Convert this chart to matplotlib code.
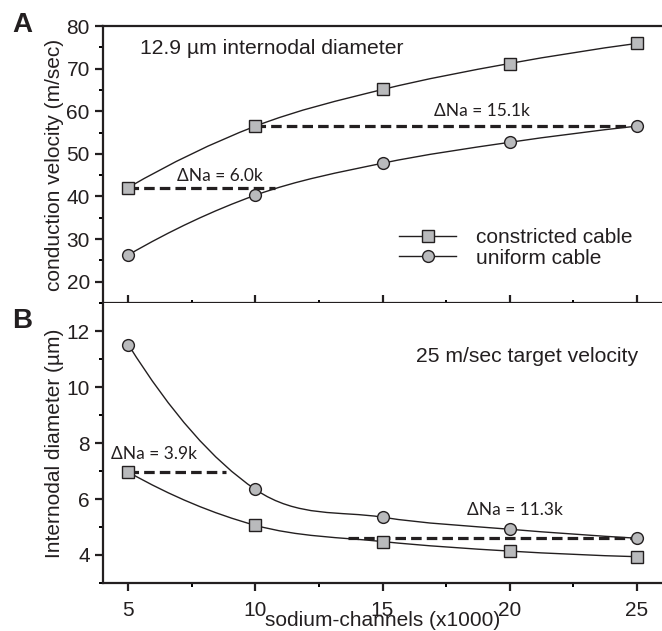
import matplotlib
matplotlib.use('Agg')
import matplotlib.pyplot as plt
import numpy as np
from matplotlib.path import Path
from matplotlib.patches import PathPatch
from matplotlib.lines import Line2D
from matplotlib.ticker import MultipleLocator

plt.rcParams['font.family'] = ['Liberation Sans', 'DejaVu Sans']

INK = '#231f20'
GRAY = '#b9babc'

# data
channels = [5, 10, 15, 20, 25]  # x1000
velocity_constricted = [42.1, 56.5, 65.1, 71.2, 75.9]
velocity_uniform = [26.3, 40.3, 47.8, 52.7, 56.5]
diameter_constricted = [6.96, 5.06, 4.48, 4.14, 3.94]
diameter_uniform = [11.51, 6.34, 5.35, 4.92, 4.6]

# ΔNa dashed segments: (x_start, x_end, y, label, label x, label y)
delta_a = [(5, 10.75, 42.1, 'ΔNa = 6.0k', 8.6, 44.8),
           (10, 25, 56.5, 'ΔNa = 15.1k', 18.9, 60.0)]
delta_b = [(5, 8.85, 6.96, 'ΔNa = 3.9k', 6.0, 7.6),
           (13.65, 25, 4.6, 'ΔNa = 11.3k', 20.2, 5.62)]


def smooth_path(x, y):
    """Cubic Bezier path through the points (tangents from neighbours)."""
    x = np.asarray(x, float)
    y = np.asarray(y, float)
    n = len(x)
    d = np.diff(y) / np.diff(x)
    m = np.empty(n)
    m[1:-1] = (y[2:] - y[:-2]) / (x[2:] - x[:-2])
    m[0] = 2 * d[0] - m[1]
    m[-1] = 2 * d[-1] - m[-2]
    verts = [(x[0], y[0])]
    codes = [Path.MOVETO]
    for i in range(n - 1):
        h = x[i + 1] - x[i]
        verts += [(x[i] + h / 3, y[i] + m[i] * h / 3),
                  (x[i + 1] - h / 3, y[i + 1] - m[i + 1] * h / 3),
                  (x[i + 1], y[i + 1])]
        codes += [Path.CURVE4] * 3
    return Path(verts, codes)


fig = plt.figure(figsize=(6.62, 6.31), dpi=100)
ax_a = fig.add_axes([103 / 662, 1 - 303 / 631, 1 - 103 / 662, 277 / 631])
ax_b = fig.add_axes([103 / 662, 1 - 583 / 631, 1 - 103 / 662, 280 / 631])

mk = dict(markerfacecolor=GRAY, markeredgecolor=INK, markeredgewidth=1.0,
          linestyle='none', zorder=4)


def draw(ax, yc, yu, deltas):
    for ys in (yc, yu):
        ax.add_patch(PathPatch(smooth_path(channels, ys), fill=False,
                               edgecolor=INK, linewidth=1.0, zorder=2))
    for x0, x1, yy, lab, tx, ty in deltas:
        ax.plot([x0, x1], [yy, yy], color=INK, linewidth=2.3,
                dashes=(3.3, 1.6), zorder=3)
        ax.text(tx, ty, lab, family=['Lato', 'DejaVu Sans'], fontsize=12.5,
                color=INK, ha='center', va='center')
    ax.plot(channels, yc, marker='s', markersize=8.3, **mk)
    ax.plot(channels, yu, marker='o', markersize=8.5, **mk)
    ax.set_xlim(4, 26)
    ax.xaxis.set_major_locator(MultipleLocator(5))
    ax.xaxis.set_minor_locator(MultipleLocator(2.5))
    for s in ('left', 'bottom', 'top'):
        ax.spines[s].set_linewidth(1.6)
        ax.spines[s].set_color(INK)
    ax.spines['right'].set_visible(False)
    ax.tick_params(colors=INK, labelsize=15, width=1.6)
    ax.tick_params(axis='y', which='major', direction='out', length=6)
    ax.tick_params(axis='y', which='minor', direction='out', length=3, width=1.4)


draw(ax_a, velocity_constricted, velocity_uniform, delta_a)
draw(ax_b, diameter_constricted, diameter_uniform, delta_b)

# panel A
ax_a.set_ylim(15, 80)
ax_a.yaxis.set_major_locator(MultipleLocator(10))
ax_a.yaxis.set_minor_locator(MultipleLocator(5))
ax_a.tick_params(axis='x', which='major', direction='inout', length=11.5,
                 labelbottom=False)
ax_a.tick_params(axis='x', which='minor', direction='inout', length=4.5,
                 width=1.4)
ax_a.set_ylabel('conduction velocity (m/sec)', fontsize=15, color=INK,
                labelpad=2)
ax_a.text(0.066, 0.92, '12.9 µm internodal diameter', transform=ax_a.transAxes,
          fontsize=15.2, color=INK, ha='left', va='center')
handles = [Line2D([], [], color=INK, lw=1.0, marker='s', markersize=8.3,
                  markerfacecolor=GRAY, markeredgecolor=INK),
           Line2D([], [], color=INK, lw=1.0, marker='o', markersize=8.5,
                  markerfacecolor=GRAY, markeredgecolor=INK)]
ax_a.legend(handles, ['constricted cable', 'uniform cable'], frameon=False,
            loc='center left', bbox_to_anchor=(0.5295, 0.199), fontsize=15,
            handlelength=2.74, handletextpad=0.96, labelspacing=0.06,
            borderpad=0, borderaxespad=0, labelcolor=INK)

# panel B
ax_b.set_ylim(3, 13)
ax_b.yaxis.set_major_locator(MultipleLocator(2))
ax_b.yaxis.set_minor_locator(MultipleLocator(1))
ax_b.spines['top'].set_visible(False)
ax_b.tick_params(axis='x', which='major', direction='out', length=6, pad=7)
ax_b.tick_params(axis='x', which='minor', direction='out', length=3, width=1.4)
ax_b.set_ylabel('Internodal diameter (µm)', fontsize=15, color=INK, labelpad=2)
ax_b.set_xlabel('sodium-channels (x1000)', fontsize=15, color=INK)
ax_b.xaxis.set_label_coords(0.5, -0.1)
ax_b.text(0.957, 0.81, '25 m/sec target velocity', transform=ax_b.transAxes,
          fontsize=15.2, color=INK, ha='right', va='center')

# panel letters
fig.text(12 / 662, 1 - 25 / 631, 'A', fontsize=20, fontweight='bold',
         color=INK, ha='left', va='center')
fig.text(12 / 662, 1 - 321 / 631, 'B', fontsize=20, fontweight='bold',
         color=INK, ha='left', va='center')

fig.savefig('out.png', dpi=100)
